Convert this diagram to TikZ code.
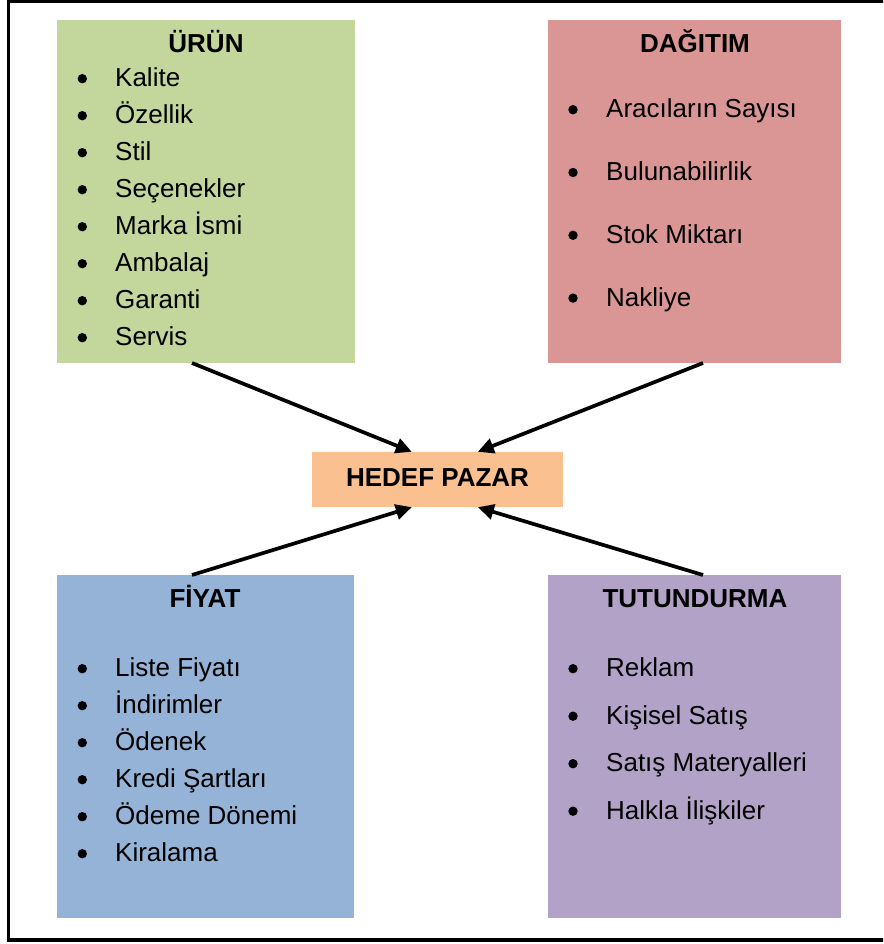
\documentclass[tikz,border=0pt]{standalone}
\usepackage{fontspec}
\setmainfont{Liberation Sans}
\usetikzlibrary{arrows.meta,calc}

\definecolor{urunfill}{HTML}{C3D69B}
\definecolor{dagitimfill}{HTML}{D99694}
\definecolor{fiyatfill}{HTML}{95B3D7}
\definecolor{tutunfill}{HTML}{B3A2C7}
\definecolor{hedeffill}{HTML}{FAC090}

\begin{document}
\begin{tikzpicture}[x=1pt,y=-1pt,
  panel/.style={draw=none, anchor=north west, inner sep=0pt, outer sep=0pt,
                minimum height=343pt},
  heading/.style={anchor=base, inner sep=0pt, font=\fontsize{26}{31}\selectfont\bfseries},
  entry/.style={anchor=base west, inner sep=0pt, font=\fontsize{26}{31}\selectfont},
  dot/.style={fill=black},
  arr/.style={line width=3.7pt, -{Triangle[length=16pt,width=15pt]}}]

\useasboundingbox (0,0) rectangle (883,944);
\clip (0,0) rectangle (883,944);

% outer frame
\draw[line width=3.2pt] (8.3,1.5) rectangle (900,940);

% four mix panels
\node[panel, fill=urunfill,    minimum width=298pt] (urun)    at (57,20)  {};
\node[panel, fill=dagitimfill, minimum width=293pt] (dagitim) at (548,20) {};
\node[panel, fill=fiyatfill,   minimum width=297pt] (fiyat)   at (57,575) {};
\node[panel, fill=tutunfill,   minimum width=293pt] (tutun)   at (548,575) {};

% centre box
\node[draw=none, fill=hedeffill, inner sep=0pt, minimum width=251pt, minimum height=55pt,
      font=\fontsize{26}{31}\selectfont\bfseries, text depth=0pt, text height=14.5pt]
      (hedef) at (437.5,479.5) {HEDEF PAZAR};

% headings
\node[heading] (th1) at (206,53)    {ÜRÜN};
\node[heading] (th2) at (695,53)    {DAĞITIM};
\node[heading] (th3) at (205,607)   {FİYAT};
\node[heading] (th4) at (695,607.7) {TUTUNDURMA};

% bullet lists
\foreach \t [count=\i] in {Kalite, Özellik, Stil, Seçenekler, Marka İsmi, Ambalaj, Garanti, Servis} {
  \node[entry] (u\i) at (115,{86.7+37*(\i-1)}) {\t};
  \fill[dot] ($(u\i.base west)+(-32.7,-8)$) circle (4.7pt);
}
\foreach \t [count=\i] in {Aracıların Sayısı, Bulunabilirlik, Stok Miktarı, Nakliye} {
  \node[entry] (d\i) at (606,{117.7+62.8*(\i-1)}) {\t};
  \fill[dot] ($(d\i.base west)+(-33,-8)$) circle (4.7pt);
}
\foreach \t [count=\i] in {Liste Fiyatı, İndirimler, Ödenek, Kredi Şartları, Ödeme Dönemi, Kiralama} {
  \node[entry] (f\i) at (115,{676.7+37*(\i-1)}) {\t};
  \fill[dot] ($(f\i.base west)+(-32.7,-8)$) circle (4.7pt);
}
\foreach \t [count=\i] in {Reklam, Kişisel Satış, Satış Materyalleri, Halkla İlişkiler} {
  \node[entry] (p\i) at (606,{676.7+47.5*(\i-1)}) {\t};
  \fill[dot] ($(p\i.base west)+(-33,-8)$) circle (4.7pt);
}

% connectors into the centre box
\draw[arr] ([xshift=135pt]urun.south west)   -- ([xshift=100pt]hedef.north west);
\draw[arr] ([xshift=155pt]dagitim.south west) -- ([xshift=166pt]hedef.north west);
\draw[arr] ([xshift=135pt]fiyat.north west)  -- ([xshift=100pt]hedef.south west);
\draw[arr] ([xshift=155pt]tutun.north west)  -- ([xshift=166pt]hedef.south west);

\end{tikzpicture}
\end{document}
